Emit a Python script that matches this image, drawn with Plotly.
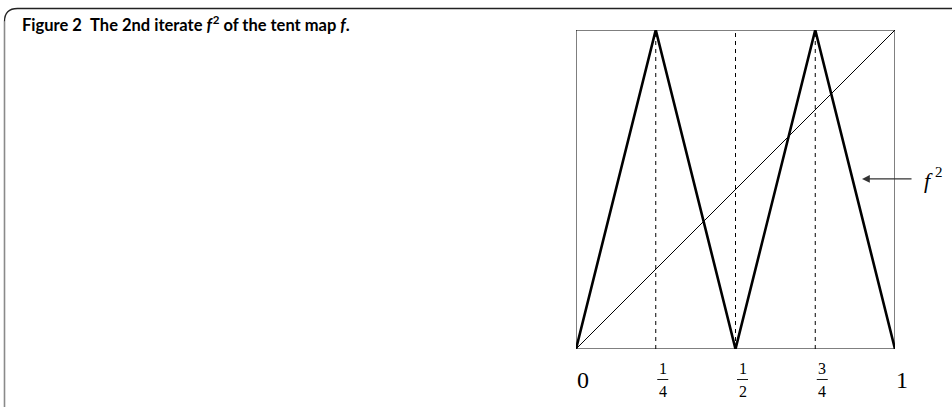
import plotly.graph_objects as go

# ---- data ----
tent_x = [0, 0.25, 0.5, 0.75, 1]
tent_y = [0, 1, 0, 1, 0]
diag_x = [0, 1]
diag_y = [0, 1]
guide_x = [0.25, 0.5, 0.75]
tick_vals = [0, 0.25, 0.5, 0.75, 1]
tick_num = ["0", "1", "1", "3", "1"]
tick_den = [None, "4", "2", "4", None]
caption = "Figure 2\u2002The 2nd iterate <i>f</i><sup>\u200a2</sup> of the tent map <i>f</i>."
curve_label_base = "<i>f</i>"
curve_label_exp = "2"
arrow_point = (0.8966, 0.533)

W, H = 952, 407

def px(x):
    return x / W

def py(y):
    return 1 - y / H

fig = go.Figure()

# dashed guides
gx, gy = [], []
for g in guide_x:
    gx += [g, g, None]
    gy += [0, 1, None]
fig.add_trace(go.Scatter(x=gx, y=gy, mode="lines",
                         line=dict(color="black", width=1, dash="4px,4px"),
                         hoverinfo="skip", showlegend=False))
# diagonal
fig.add_trace(go.Scatter(x=diag_x, y=diag_y, mode="lines",
                         line=dict(color="black", width=1),
                         hoverinfo="skip", showlegend=False))
# tent map second iterate
fig.add_trace(go.Scatter(x=tent_x, y=tent_y, mode="lines",
                         line=dict(color="black", width=2.6),
                         hoverinfo="skip", showlegend=False))

shapes = []
# plot frame
shapes.append(dict(type="rect", xref="x", yref="y", x0=0, y0=0, x1=1, y1=1,
                   line=dict(color="black", width=1), layer="below"))
# outer border: left gray line and dark rounded top
x0 = px(4.5)
ytop = py(8.5)
rx = px(13)
ry = 13 / H
shapes.append(dict(type="path", xref="paper", yref="paper",
                   path=f"M {x0},0 L {x0},{ytop - ry}",
                   line=dict(color="#8a8a8a", width=1.6)))
shapes.append(dict(type="path", xref="paper", yref="paper",
                   path=f"M {x0},{ytop - ry} Q {x0},{ytop} {x0 + rx},{ytop} L 1.01,{ytop}",
                   line=dict(color="#222222", width=1.3)))

annotations = []
serif = "Liberation Serif"
for v, n, d in zip(tick_vals, tick_num, tick_den):
    if d is None:
        annotations.append(dict(x=v, y=py(380), xref="x", yref="paper", text=n,
                                showarrow=False, xshift=7, yanchor="middle",
                                font=dict(family=serif, size=24, color="black")))
    else:
        annotations.append(dict(x=v, y=py(368), xref="x", yref="paper", text=n,
                                showarrow=False, xshift=7, yanchor="middle",
                                font=dict(family=serif, size=16, color="black")))
        annotations.append(dict(x=v, y=py(391), xref="x", yref="paper", text=d,
                                showarrow=False, xshift=7, yanchor="middle",
                                font=dict(family=serif, size=16, color="black")))
        shapes.append(dict(type="line", xref="x", yref="paper", xsizemode="pixel",
                           xanchor=v, x0=1.5, x1=12.5, y0=py(379.5), y1=py(379.5),
                           line=dict(color="black", width=0.9)))

# arrow to curve
annotations.append(dict(x=arrow_point[0], y=arrow_point[1], xref="x", yref="y",
                        ax=51, ay=0, axref="pixel", ayref="pixel", text="",
                        showarrow=True, arrowhead=2, arrowsize=1.2, arrowwidth=1.3,
                        arrowcolor="#333333"))
annotations.append(dict(x=px(928), y=py(180), xref="paper", yref="paper",
                        text=curve_label_base, showarrow=False, xanchor="center",
                        yanchor="middle",
                        font=dict(family=serif, size=22, color="black")))
annotations.append(dict(x=px(939), y=py(172), xref="paper", yref="paper",
                        text=curve_label_exp, showarrow=False, xanchor="center",
                        yanchor="middle",
                        font=dict(family=serif, size=15, color="black")))
# caption
annotations.append(dict(x=px(20), y=py(24), xref="paper", yref="paper",
                        text="<b>" + caption + "</b>", showarrow=False,
                        xanchor="left", yanchor="middle",
                        font=dict(family="Lato", size=16.5, color="black")))

fig.update_layout(
    width=W, height=H,
    margin=dict(l=0, r=0, t=0, b=0),
    paper_bgcolor="white", plot_bgcolor="white",
    xaxis=dict(domain=[px(576), px(895)], range=[0, 1], showgrid=False,
               zeroline=False, showticklabels=False, ticks="", fixedrange=True),
    yaxis=dict(domain=[py(349), py(30)], range=[0, 1], showgrid=False,
               zeroline=False, showticklabels=False, ticks="", fixedrange=True),
    shapes=shapes,
    annotations=annotations,
    showlegend=False,
)

fig.write_html("out.html", config={"displayModeBar": False},
               post_script="document.body.style.margin='0';document.body.style.overflow='hidden';")
